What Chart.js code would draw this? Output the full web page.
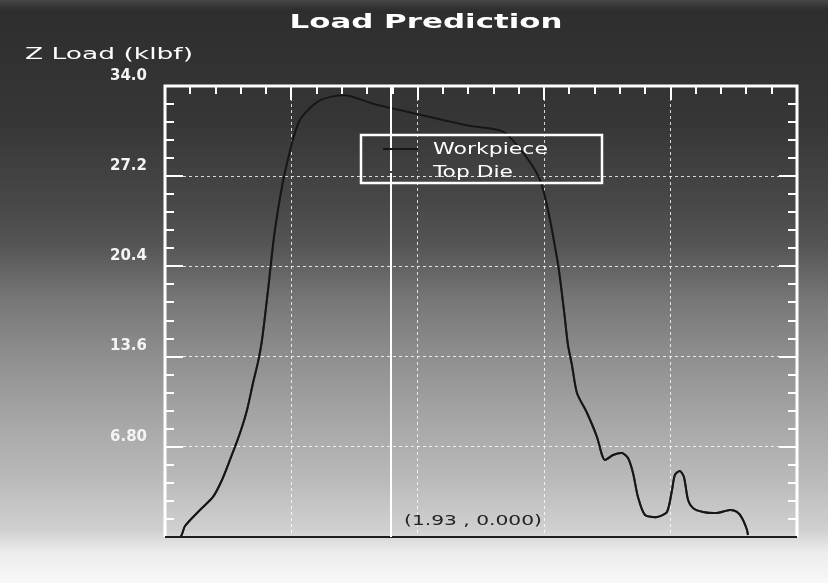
<!DOCTYPE html>
<html>
<head>
<meta charset="utf-8">
<title>Load Prediction</title>
<script src="https://cdn.jsdelivr.net/npm/chart.js@4.4.1/dist/chart.umd.min.js"></script>
<style>
  html, body { margin: 0; padding: 0; background: #f6f6f6; }
</style>
</head>
<body>
<canvas id="loadChart" width="828" height="583"></canvas>
<script>
// stroke position and predicted Z load (klbf)
const stroke = [0, 0.13, 0.171, 0.299, 0.41, 0.487, 0.555, 0.641, 0.701, 0.752, 0.795, 0.829,
  0.88, 0.94, 1.03, 1.15, 1.32, 1.54, 1.8, 2.2, 2.6, 2.9, 3.2, 3.35, 3.41, 3.443, 3.477, 3.52,
  3.606, 3.691, 3.734, 3.759, 3.828, 3.905, 3.956, 3.999, 4.041, 4.101, 4.204, 4.289, 4.332,
  4.357, 4.4, 4.434, 4.469, 4.511, 4.597, 4.716, 4.827, 4.887, 4.93, 4.973, 4.981];
const workpieceLoad = [0, 0, 0.83, 2.04, 3.02, 4.3, 5.81, 7.84, 9.58, 11.61, 13.2, 14.86,
  18.6, 23.2, 27.7, 31.4, 32.9, 33.3, 32.6, 31.8, 31.0, 30.5, 27.0, 21.0, 17.0, 14.48, 12.97, 10.86,
  9.35, 7.54, 6.18, 5.81, 6.18, 6.33, 5.96, 4.83, 3.02, 1.66, 1.51, 1.89, 3.54,
  4.68, 4.98, 4.52, 2.79, 2.19, 1.89, 1.81, 2.04, 1.89, 1.43, 0.53, 0.15];
// the top die carries the same load as the workpiece
const topDieLoad = [0, 0, 0.83, 2.04, 3.02, 4.3, 5.81, 7.84, 9.58, 11.61, 13.2, 14.86,
  18.6, 23.2, 27.7, 31.4, 32.9, 33.3, 32.6, 31.8, 31.0, 30.5, 27.0, 21.0, 17.0, 14.48, 12.97, 10.86,
  9.35, 7.54, 6.18, 5.81, 6.18, 6.33, 5.96, 4.83, 3.02, 1.66, 1.51, 1.89, 3.54,
  4.68, 4.98, 4.52, 2.79, 2.19, 1.89, 1.81, 2.04, 1.89, 1.43, 0.53, 0.15];

const seriesNames = ["Workpiece", "Top Die"];
const yMax = 34.0;
const yStep = 6.8;
const xMax = 5.4;
const xStep = 1.08;
const cursor = [1.93, 0.0];

const toPoints = (xs, ys) => xs.map((x, i) => ({ x: x, y: ys[i] }));

// draws text squeezed/stretched to a given width
function wideText(ctx, txt, x, y, width, align) {
  const w = ctx.measureText(txt).width;
  ctx.save();
  ctx.translate(x, y);
  ctx.scale(width / w, 1);
  ctx.textAlign = "left";
  ctx.fillText(txt, align === "center" ? -w / 2 : 0, 0);
  ctx.restore();
}

const screenPlugin = {
  id: "screen",
  beforeDraw(chart) {
    const ctx = chart.ctx;
    const g = ctx.createLinearGradient(0, 0, 0, 583);
    const stops = [[0, "#474747"], [10, "#2e2e2e"], [120, "#363636"], [200, "#474747"],
      [245, "#555555"], [300, "#777777"], [360, "#909090"], [420, "#a6a6a6"],
      [480, "#bababa"], [530, "#d0d0d0"], [552, "#ececec"], [583, "#f8f8f8"]];
    stops.forEach(s => g.addColorStop(s[0] / 583, s[1]));
    ctx.save();
    ctx.fillStyle = g;
    ctx.fillRect(0, 0, chart.width, chart.height);
    ctx.restore();
  },
  afterDraw(chart) {
    const ctx = chart.ctx;
    const a = chart.chartArea;
    const xs = chart.scales.x;
    const ys = chart.scales.y;
    ctx.save();

    // frame: white on three sides, dark base line
    ctx.strokeStyle = "#ffffff";
    ctx.lineWidth = 3;
    ctx.beginPath();
    ctx.moveTo(a.left, a.bottom);
    ctx.lineTo(a.left, a.top);
    ctx.lineTo(a.right, a.top);
    ctx.lineTo(a.right, a.bottom);
    ctx.stroke();
    ctx.strokeStyle = "#1e1e1e";
    ctx.lineWidth = 2;
    ctx.beginPath();
    ctx.moveTo(a.left, a.bottom);
    ctx.lineTo(a.right, a.bottom);
    ctx.stroke();

    // inward ticks, 5 divisions per major step
    ctx.strokeStyle = "#ffffff";
    ctx.lineWidth = 2;
    ctx.beginPath();
    for (let k = 1; k < 25; k++) {
      const px = Math.round(xs.getPixelForValue(k * xStep / 5));
      const len = k % 5 === 0 ? 14 : 8;
      ctx.moveTo(px, a.top);
      ctx.lineTo(px, a.top + len);
    }
    for (let k = 1; k < 25; k++) {
      const py = Math.round(ys.getPixelForValue(k * yStep / 5));
      const len = k % 5 === 0 ? 18 : 9;
      ctx.moveTo(a.left, py);
      ctx.lineTo(a.left + len, py);
      ctx.moveTo(a.right, py);
      ctx.lineTo(a.right - len, py);
    }
    ctx.stroke();

    // cursor
    const cx = Math.round(xs.getPixelForValue(cursor[0]));
    ctx.strokeStyle = "#ffffff";
    ctx.lineWidth = 2;
    ctx.beginPath();
    ctx.moveTo(cx, a.top);
    ctx.lineTo(cx, a.bottom);
    ctx.stroke();
    ctx.fillStyle = "#222222";
    ctx.font = "14px 'DejaVu Sans'";
    ctx.textBaseline = "alphabetic";
    wideText(ctx, "(" + cursor[0].toFixed(2) + " , " + cursor[1].toFixed(3) + ")", cx + 13, 525, 138);

    // legend
    ctx.strokeStyle = "#ffffff";
    ctx.lineWidth = 2.5;
    ctx.strokeRect(361, 135, 241, 48);
    ctx.font = "15px 'DejaVu Sans'";
    ctx.textBaseline = "middle";
    const widths = [115, 80];
    chart.data.datasets.forEach((ds, i) => {
      const ly = 149 + i * 23;
      ctx.strokeStyle = ds.borderColor;
      ctx.lineWidth = 2;
      ctx.beginPath();
      ctx.moveTo(383, ly);
      ctx.lineTo(418, ly);
      ctx.stroke();
      ctx.fillStyle = "#ffffff";
      wideText(ctx, ds.label, 433, ly + 1, widths[i]);
    });

    // titles
    ctx.fillStyle = "#ffffff";
    ctx.textBaseline = "alphabetic";
    ctx.font = "bold 20px 'DejaVu Sans'";
    wideText(ctx, "Load Prediction", 426, 28, 273, "center");
    ctx.font = "16px 'DejaVu Sans'";
    wideText(ctx, "Z Load (klbf)", 25, 59, 168);
    ctx.restore();
  }
};

const gridColor = c => (c.index === 0 || c.index === 5) ? "rgba(0,0,0,0)" : "rgba(255,255,255,0.8)";

new Chart(document.getElementById("loadChart"), {
  type: "line",
  data: {
    datasets: [
      {
        label: seriesNames[0],
        data: toPoints(stroke, workpieceLoad),
        borderColor: "#161616",
        borderWidth: 2,
        pointRadius: 0,
        tension: 0.25,
        order: 0
      },
      {
        label: seriesNames[1],
        data: toPoints(stroke, topDieLoad),
        borderColor: "#404040",
        borderWidth: 2,
        pointRadius: 0,
        tension: 0.25,
        order: 1
      }
    ]
  },
  options: {
    responsive: false,
    animation: false,
    events: [],
    layout: { padding: { top: 86, right: 31, left: 0, bottom: 0 } },
    plugins: {
      legend: { display: false },
      title: { display: false },
      tooltip: { enabled: false }
    },
    scales: {
      x: {
        type: "linear",
        min: 0,
        max: xMax,
        ticks: { display: false, stepSize: xStep },
        grid: { color: gridColor, lineWidth: 1, drawTicks: false },
        border: { display: false, dash: [3, 3] },
        afterFit: s => { s.height = 46; }
      },
      y: {
        min: 0,
        max: yMax,
        ticks: {
          stepSize: yStep,
          color: "#f4f4f4",
          font: { family: "'DejaVu Sans'", size: 15, weight: "bold" },
          padding: 18,
          labelOffset: -10,
          callback: v => v === 0 ? "" : Number(v).toPrecision(3)
        },
        grid: { color: gridColor, lineWidth: 1, drawTicks: false },
        border: { display: false, dash: [3, 3] },
        afterFit: s => { s.height = s.height; s.width = 165; }
      }
    }
  },
  plugins: [screenPlugin]
});
</script>
</body>
</html>
